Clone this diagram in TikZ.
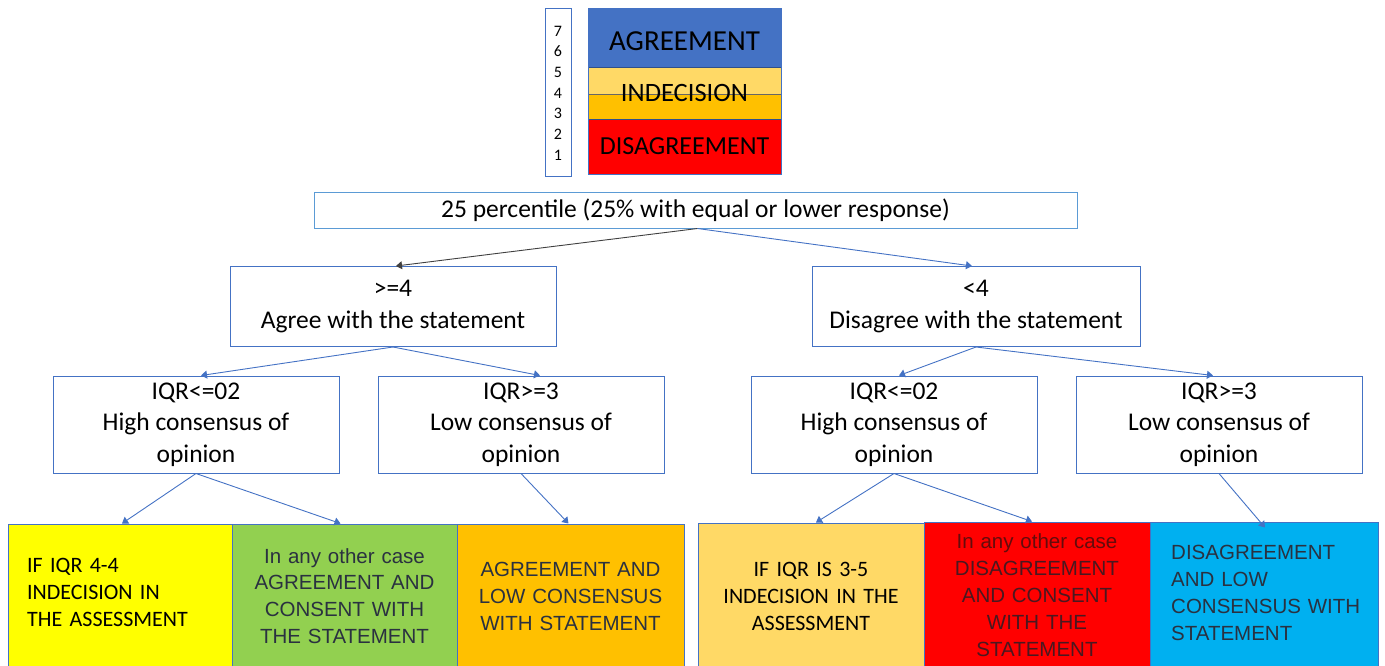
\documentclass[tikz,border=0pt]{standalone}
\usepackage{fontspec}
\setmainfont{Carlito}
\newfontfamily\arialf{Liberation Sans}
\usetikzlibrary{arrows.meta}
\definecolor{bord}{HTML}{4472C4}
\definecolor{bordl}{HTML}{5B9BD5}
\definecolor{agr}{HTML}{4472C4}
\definecolor{lyel}{HTML}{FFD966}
\definecolor{amber}{HTML}{FFC000}
\definecolor{red}{HTML}{FF0000}
\definecolor{yel}{HTML}{FFFF00}
\definecolor{grn}{HTML}{92D050}
\definecolor{cyan}{HTML}{00B0F0}
\definecolor{darktx}{HTML}{2A3140}
\definecolor{redtx}{HTML}{4A1820}
\definecolor{redtx2}{HTML}{640C0C}
\definecolor{arrgray}{HTML}{404040}
\tikzset{
  wbox/.style={draw=bord, line width=1pt, fill=white, inner sep=0pt, align=center,
    font=\fontsize{25.5}{31.5}\selectfont},
  cbox/.style={draw=bord, line width=1pt, inner sep=0pt, minimum height=146,
    font=\fontsize{21}{27}\selectfont},
  conn/.style={draw=bord, line width=0.9pt, -{Triangle[width=8pt,length=6pt]}},
  bandtxt/.style={inner sep=0pt}
}
\begin{document}
\begin{tikzpicture}[x=1pt,y=-1pt]
\useasboundingbox (0,0) rectangle (1385,665);
\begin{scope}
\clip (0,0) rectangle (1385,665);
% scale column
\node[draw=bord, line width=1pt, minimum width=26, minimum height=168, inner sep=0pt] (scalecol) at (558,92) {};
\foreach \n/\yy in {7/31,6/51.5,5/72,4/93,3/113.5,2/134,1/155}
  \node[font=\fontsize{16}{18}\selectfont, inner sep=0pt] (num\n) at (558,\yy) {\n};
% colour bands
\fill[agr] (588,8) rectangle (781,67);
\fill[lyel] (588,67) rectangle (781,94);
\fill[amber] (588,94) rectangle (781,119);
\fill[red] (588,119) rectangle (781,174);
\draw[bord!70!black, line width=0.8pt] (588,67) -- (781,67);
\draw[black!60, line width=0.8pt] (588,94) -- (781,94);
\draw[bord!70!black, line width=0.8pt] (588,119) -- (781,119);
\draw[bord, line width=1pt] (588,8) rectangle (781,174);
\node[bandtxt, font=\fontsize{29}{32}\selectfont] (tagr) at (684.5,41) {AGREEMENT};
\node[bandtxt, font=\fontsize{26.5}{30}\selectfont] (tind) at (684.5,93) {INDECISION};
\node[bandtxt, font=\fontsize{26}{30}\selectfont] (tdis) at (684.5,146) {DISAGREEMENT};
% top box
\node[wbox, draw=bordl, minimum width=763, minimum height=36] (top) at (695.5,210) {25 percentile (25\% with equal or lower response)};
% level 2
\node[wbox, minimum width=326, minimum height=80] (agree) at (393,306.5) {>=4\\Agree with the statement};
\node[wbox, minimum width=328, minimum height=80] (disag) at (976,306.5) {<4\\Disagree with the statement};
% level 3
\node[wbox, minimum width=286, minimum height=97] (ll) at (196,424.5) {IQR<=02\\High consensus of\\opinion};
\node[wbox, minimum width=286, minimum height=97] (lr) at (521,424.5) {IQR>=3\\Low consensus of\\opinion};
\node[wbox, minimum width=286, minimum height=97] (rl) at (894,424.5) {IQR<=02\\High consensus of\\opinion};
\node[wbox, minimum width=286, minimum height=97] (rr) at (1219,424.5) {IQR>=3\\Low consensus of\\opinion};
% bottom boxes
\node[cbox, fill=yel, minimum width=224, minimum height=144] (b1) at (120,596) {};
\node[inner sep=0pt, text width=186, align=left, font=\fontsize{22}{27}\selectfont, anchor=west] (b1t) at (27,592) {IF IQR 4-4\\INDECISION IN\\THE ASSESSMENT};
\node[cbox, fill=grn, minimum width=225, minimum height=144, text width=215, align=center, text=darktx,
  font=\arialf\fontsize{20.5}{26.7}\selectfont] (b2) at (344.5,596) {In any other case\\AGREEMENT AND\\CONSENT WITH\\THE STATEMENT};
\node[cbox, fill=amber, minimum width=227, minimum height=144, text width=215, align=center, text=darktx,
  font=\arialf\fontsize{20.5}{27}\selectfont] (b3) at (570.5,596) {AGREEMENT AND\\LOW CONSENSUS\\WITH STATEMENT};
\node[cbox, fill=lyel, minimum width=226, text width=215, align=center,
  font=\fontsize{22}{27}\selectfont] (b4) at (811,596) {IF IQR IS 3-5\\INDECISION IN THE\\ASSESSMENT};
\node[cbox, fill=red, minimum width=226, text width=220, align=center, text=redtx,
  font=\arialf\fontsize{20.5}{27}\selectfont] (b5) at (1037,595) {\textcolor{redtx2}{In any other case}\\DISAGREEMENT\\AND CONSENT\\WITH THE\\STATEMENT};
\node[cbox, fill=cyan, minimum width=228] (b6) at (1264,595) {};
\node[inner sep=0pt, text width=200, align=left, text=darktx, anchor=west,
  font=\arialf\fontsize{20.5}{27}\selectfont] (b6t) at (1171,593) {DISAGREEMENT\\AND LOW\\CONSENSUS WITH\\STATEMENT};
\end{scope}
% connectors
\draw[conn, draw=arrgray] ([xshift=2pt]top.south) -- ([xshift=3pt]agree.north);
\draw[conn] ([xshift=2pt]top.south) -- ([xshift=-4pt]disag.north);
\draw[conn] (agree.south) -- ([xshift=5pt]ll.north);
\draw[conn] (agree.south) -- ([xshift=19pt]lr.north);
\draw[conn] (disag.south) -- ([xshift=5pt]rl.north);
\draw[conn] (disag.south) -- ([xshift=-6pt]rr.north);
\draw[conn] (ll.south) -- ([xshift=2pt]b1.north);
\draw[conn] (ll.south) -- ([xshift=-4pt]b2.north);
\draw[conn] (lr.south) -- ([xshift=-2pt]b3.north);
\draw[conn] (rl.south) -- ([xshift=5pt]b4.north);
\draw[conn] (rl.south) -- ([xshift=-5pt]b5.north);
\draw[conn] (rr.south) -- ([xshift=1pt,yshift=-6pt]b6.north);
\end{tikzpicture}
\end{document}
